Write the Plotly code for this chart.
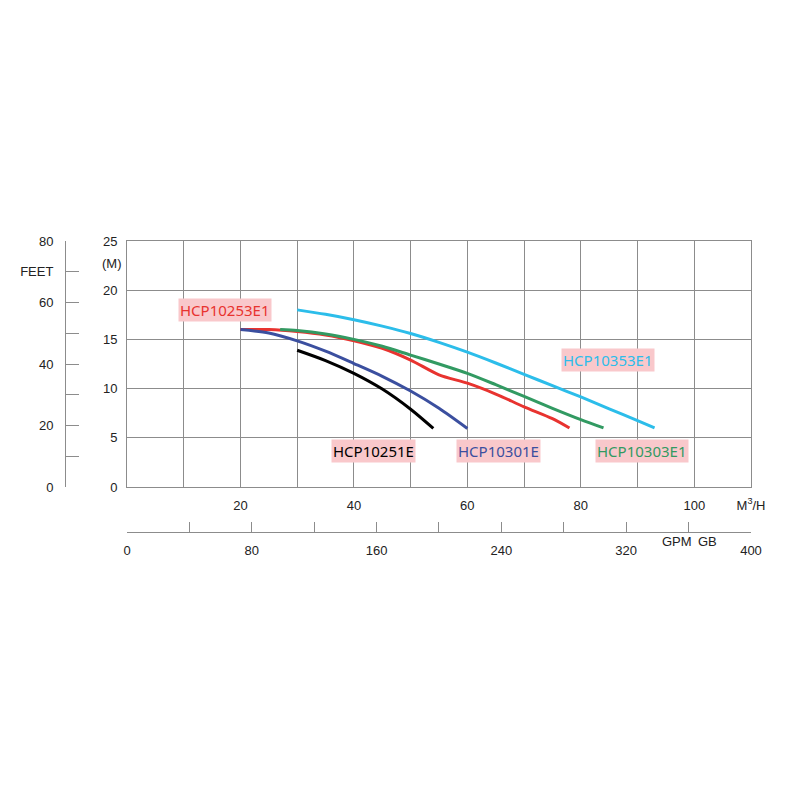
import plotly.graph_objects as go

# flow in m3/h, head in metres
hcp10253e1_flow = [20, 25, 30, 35, 40, 45, 50, 55, 60, 65, 70, 75, 78]
hcp10253e1_head = [16.0, 16.0, 15.8, 15.45, 14.87, 14.1, 12.9, 11.4, 10.55, 9.45, 8.15, 6.95, 6.0]

hcp10251e_flow = [30, 35, 40, 45, 50, 54]
hcp10251e_head = [13.9, 12.85, 11.55, 9.95, 7.9, 5.95]

hcp10301e_flow = [20, 25, 30, 35, 40, 45, 50, 55, 60]
hcp10301e_head = [16.0, 15.65, 14.85, 13.8, 12.55, 11.25, 9.75, 8.0, 5.95]

hcp10303e1_flow = [27, 30, 35, 40, 45, 50, 55, 60, 65, 70, 75, 80, 84]
hcp10303e1_head = [16.0, 15.9, 15.55, 15.0, 14.3, 13.4, 12.5, 11.55, 10.4, 9.2, 8.0, 6.85, 6.0]

hcp10353e1_flow = [30, 35, 40, 45, 50, 55, 60, 65, 70, 75, 80, 85, 90, 93]
hcp10353e1_head = [18.0, 17.55, 17.0, 16.35, 15.6, 14.7, 13.7, 12.6, 11.45, 10.3, 9.15, 7.95, 6.75, 6.0]

# axis ticks
m3h_ticks = [10, 20, 30, 40, 50, 60, 70, 80, 90, 100, 110]
m3h_labels = ["", "20", "", "40", "", "60", "", "80", "", "100", "M<sup>3</sup>/H"]
metre_ticks = [0, 5, 10, 15, 20, 25]
feet_ticks = [0, 10, 20, 30, 40, 50, 60, 70, 80]
feet_labels = ["0", "", "20", "", "40", "", "60", "FEET", "80"]
gpm_ticks = [0, 40, 80, 120, 160, 200, 240, 280, 320, 360, 400]
gpm_labels = ["0", "", "80", "", "160", "", "240", "", "320", "", "400"]

curves = [
    ("HCP10253E1", hcp10253e1_flow, hcp10253e1_head, "#e8332f"),
    ("HCP10251E", hcp10251e_flow, hcp10251e_head, "#000000"),
    ("HCP10301E", hcp10301e_flow, hcp10301e_head, "#3b4f9f"),
    ("HCP10303E1", hcp10303e1_flow, hcp10303e1_head, "#329a62"),
    ("HCP10353E1", hcp10353e1_flow, hcp10353e1_head, "#2cbdea"),
]

grid = "#8c8c8c"
txt = "#222222"
tick_font = dict(family="Liberation Sans, Arial, sans-serif", size=13, color=txt)

fig = go.Figure()

for name, flow, head, color in curves:
    fig.add_trace(go.Scatter(
        x=flow, y=head, mode="lines", name=name,
        line=dict(color=color, width=3, shape="spline", smoothing=0.8),
        showlegend=False,
    ))

# empty trace so the GPM / FEET axes get drawn
fig.add_trace(go.Scatter(x=[None], y=[None], xaxis="x2", yaxis="y2",
                         showlegend=False, hoverinfo="skip"))

# model labels with pink boxes
label_pos = {
    "HCP10253E1": (17.2, 18.0),
    "HCP10251E": (43.5, 3.65),
    "HCP10301E": (65.5, 3.65),
    "HCP10303E1": (90.8, 3.65),
    "HCP10353E1": (84.8, 12.9),
}
for name, flow, head, color in curves:
    lx, ly = label_pos[name]
    fig.add_annotation(x=lx, y=ly, xref="x", yref="y", text=name, showarrow=False,
                       font=dict(family="Noto Sans, sans-serif", size=15, color=color),
                       bgcolor="#f9c8cb", borderpad=1)

fig.add_annotation(x=-0.024, y=22.7, xref="x domain", yref="y", text="(M)",
                   showarrow=False, font=tick_font, xanchor="center")
fig.add_annotation(x=352.6, y=0.1225, xref="x2", yref="paper", text="GPM",
                   showarrow=False, font=tick_font)
fig.add_annotation(x=372.4, y=0.1225, xref="x2", yref="paper", text="GB",
                   showarrow=False, font=tick_font)

fig.update_layout(
    width=800, height=800,
    margin=dict(l=40, r=49, t=200, b=200),
    paper_bgcolor="white", plot_bgcolor="white",
    xaxis=dict(domain=[0.12236, 1], range=[0, 110], tickmode="array",
               tickvals=m3h_ticks, ticktext=m3h_labels, ticks="",
               showgrid=True, gridcolor=grid, gridwidth=1,
               showline=True, linecolor=grid, linewidth=1, mirror=True,
               zeroline=False, tickfont=tick_font, ticklabelstandoff=6,
               automargin=False),
    yaxis=dict(domain=[0.2825, 0.8975], range=[0, 25], tickmode="array",
               tickvals=metre_ticks, ticks="",
               showgrid=True, gridcolor=grid, gridwidth=1,
               showline=True, linecolor=grid, linewidth=1, mirror=True,
               zeroline=False, tickfont=tick_font, ticklabelstandoff=6,
               automargin=False),
    xaxis2=dict(domain=[0.12236, 1], range=[0, 400], overlaying="x",
                anchor="free", position=0.17, side="bottom",
                tickmode="array", tickvals=gpm_ticks, ticktext=gpm_labels,
                ticks="inside", ticklen=10, tickcolor=grid,
                showline=True, linecolor=grid, linewidth=1, showgrid=False,
                zeroline=False, tickfont=tick_font, ticklabelstandoff=6,
                automargin=False),
    yaxis2=dict(domain=[0.2825, 0.8975], range=[0, 80], overlaying="y",
                anchor="free", position=0.03516, side="left",
                tickmode="array", tickvals=feet_ticks, ticktext=feet_labels,
                ticks="inside", ticklen=13, tickcolor=grid,
                showline=True, linecolor=grid, linewidth=1, showgrid=False,
                zeroline=False, tickfont=tick_font, ticklabelstandoff=9,
                automargin=False),
)

# drop the default page margin so the chart sits at the window corner
fig.write_html("out.html", config={"displayModeBar": False},
               post_script="document.body.style.margin='0';document.body.style.overflow='hidden';")
